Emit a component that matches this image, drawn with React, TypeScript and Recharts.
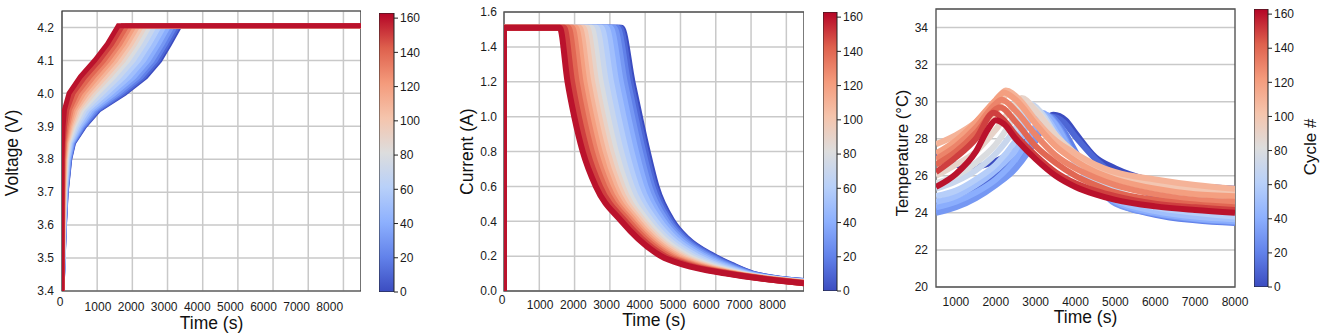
import React from "react";
import {
  LineChart,
  Line,
  BarChart,
  Bar,
  XAxis,
  YAxis,
  CartesianGrid,
  ReferenceArea
} from "recharts";

// cycle numbers drawn (one curve each), and the colour bar range
const cycles = [0, 10, 20, 30, 40, 50, 60, 70, 80, 90, 100, 110, 120, 130, 140, 150, 160];
const cycleMax = 163;
const cycleTicks = [0, 20, 40, 60, 80, 100, 120, 140, 160];

const timeTicks = [0, 1000, 2000, 3000, 4000, 5000, 6000, 7000, 8000];
const tempTimeTicks = [1000, 2000, 3000, 4000, 5000, 6000, 7000, 8000];
const voltageTicks = [3.4, 3.5, 3.6, 3.7, 3.8, 3.9, 4.0, 4.1, 4.2];
const currentTicks = [0, 0.2, 0.4, 0.6, 0.8, 1.0, 1.2, 1.4, 1.6];
const tempTicks = [20, 22, 24, 26, 28, 30, 32, 34];

const recordEnd = 8500;

// voltage: time (s) at which each cycle reaches each voltage level
const voltageLevels = [3.4, 3.6, 3.7, 3.8, 3.85, 3.9, 3.95, 4.0, 4.05, 4.1, 4.15, 4.205];
const voltageTimes = [
  [0, 70, 120, 220, 330, 640, 1050, 1780, 2380, 2780, 3060, 3350],
  [0, 68, 116, 213, 320, 622, 1021, 1733, 2324, 2725, 3007, 3298],
  [0, 65, 112, 205, 308, 597, 981, 1669, 2250, 2651, 2936, 3228],
  [0, 62, 106, 194, 292, 567, 932, 1590, 2157, 2558, 2848, 3140],
  [0, 57, 98, 180, 272, 530, 874, 1496, 2045, 2447, 2741, 3035],
  [0, 52, 90, 165, 250, 488, 805, 1385, 1915, 2318, 2618, 2913],
  [0, 47, 80, 147, 224, 439, 727, 1259, 1766, 2170, 2476, 2773],
  [0, 41, 71, 130, 199, 390, 648, 1132, 1617, 2022, 2334, 2633],
  [0, 36, 61, 112, 173, 341, 570, 1006, 1469, 1874, 2193, 2493],
  [0, 31, 53, 97, 151, 298, 501, 895, 1338, 1744, 2069, 2370],
  [0, 27, 46, 84, 132, 262, 442, 800, 1227, 1633, 1963, 2265],
  [0, 22, 38, 70, 112, 225, 384, 706, 1115, 1522, 1856, 2160],
  [0, 18, 31, 57, 93, 189, 325, 611, 1004, 1411, 1750, 2055],
  [0, 14, 24, 44, 74, 152, 266, 516, 892, 1300, 1644, 1950],
  [0, 10, 17, 31, 55, 115, 207, 421, 780, 1189, 1538, 1845],
  [0, 5, 8, 15, 32, 73, 139, 311, 650, 1060, 1414, 1723],
  [0, 0, 0, 0, 10, 30, 70, 200, 520, 930, 1290, 1600]
];

// current: time (s) at which each cycle falls to each current level
const currentLevels = [1.51, 1.2, 1.0, 0.8, 0.6, 0.4, 0.3, 0.2, 0.15, 0.1];
const currentTimes = [
  [3330, 3640, 3850, 4070, 4320, 4780, 5200, 5950, 6450, 7050],
  [3280, 3585, 3794, 4015, 4268, 4735, 5160, 5905, 6410, 7030],
  [3210, 3510, 3720, 3941, 4200, 4680, 5100, 5845, 6355, 7000],
  [3120, 3419, 3627, 3849, 4114, 4606, 5032, 5770, 6288, 6960],
  [3015, 3309, 3515, 3739, 4010, 4519, 4948, 5680, 6207, 6915],
  [2893, 3180, 3385, 3610, 3890, 4418, 4850, 5575, 6113, 6863],
  [2753, 3033, 3236, 3463, 3752, 4302, 4738, 5455, 6005, 6803],
  [2613, 2886, 3087, 3316, 3615, 4186, 4626, 5335, 5897, 6743],
  [2473, 2738, 2939, 3168, 3477, 4070, 4514, 5215, 5789, 6683],
  [2350, 2610, 2808, 3040, 3357, 3968, 4416, 5110, 5694, 6630],
  [2245, 2499, 2697, 2929, 3254, 3881, 4332, 5020, 5613, 6585],
  [2140, 2389, 2585, 2819, 3150, 3794, 4248, 4930, 5532, 6540],
  [2035, 2278, 2474, 2708, 3047, 3707, 4164, 4840, 5451, 6495],
  [1930, 2168, 2362, 2598, 2944, 3620, 4080, 4750, 5370, 6450],
  [1825, 2058, 2250, 2488, 2841, 3533, 3996, 4660, 5289, 6405],
  [1703, 1929, 2120, 2359, 2720, 3432, 3898, 4555, 5195, 6353],
  [1580, 1800, 1990, 2230, 2600, 3330, 3800, 4450, 5100, 6300]
];
const currentTail = [0.058, 0.057, 0.056, 0.055, 0.054, 0.053, 0.052, 0.051, 0.05, 0.05, 0.049, 0.048, 0.047, 0.047, 0.046, 0.045, 0.045];

// temperature: [time (s), temperature (°C)] per cycle
const temperatureCurves: [number, number][][] = [
  [[500, 27.3], [1000, 26.6], [1500, 26.5], [2000, 26.8], [2500, 27.4], [3000, 28.3], [3450, 29.3], [3750, 29.0], [4000, 28.3], [4500, 27.0], [5000, 26.4], [5800, 25.8], [7000, 25.45], [8000, 25.3]],
  [[500, 24.6], [1000, 24.9], [1500, 25.4], [2000, 26.0], [2500, 26.9], [3000, 28.1], [3400, 29.2], [3700, 28.9], [4000, 28.1], [4500, 26.9], [5000, 26.0], [6000, 24.9], [7000, 24.3], [8000, 24.0]],
  [[500, 24.2], [1000, 24.5], [1500, 25.0], [2000, 25.6], [2500, 26.5], [3000, 27.9], [3350, 29.2], [3650, 28.6], [4000, 27.3], [4500, 25.6], [5000, 24.6], [6000, 23.9], [7000, 23.6], [8000, 23.45]],
  [[500, 24.0], [1000, 24.3], [1500, 24.8], [2000, 25.5], [2500, 26.4], [3000, 28.0], [3250, 29.3], [3550, 28.7], [4000, 27.0], [4500, 25.5], [5000, 24.5], [6000, 23.95], [7000, 23.65], [8000, 23.5]],
  [[500, 24.3], [1000, 24.6], [1500, 25.1], [2000, 25.8], [2500, 26.9], [3000, 28.7], [3150, 29.4], [3450, 28.9], [4000, 26.9], [4500, 25.5], [5000, 24.6], [6000, 24.0], [7000, 23.7], [8000, 23.55]],
  [[500, 24.6], [1000, 24.9], [1500, 25.5], [2000, 26.3], [2500, 27.4], [3000, 29.4], [3200, 29.3], [3500, 28.4], [4000, 26.7], [4500, 25.4], [5000, 24.7], [6000, 24.1], [7000, 23.8], [8000, 23.65]],
  [[500, 24.9], [1000, 25.2], [1500, 25.8], [2000, 26.6], [2500, 27.9], [2950, 29.6], [3200, 29.2], [3500, 28.2], [4000, 26.7], [4500, 25.5], [5000, 24.9], [6000, 24.3], [7000, 24.0], [8000, 23.8]],
  [[500, 25.3], [1000, 25.7], [1500, 26.3], [2000, 27.2], [2500, 28.6], [2850, 29.9], [3100, 29.5], [3500, 28.2], [4000, 26.8], [4500, 25.8], [5000, 25.2], [6000, 24.6], [7000, 24.3], [8000, 24.1]],
  [[500, 25.6], [1000, 26.0], [1500, 26.7], [2000, 27.7], [2500, 29.3], [2700, 30.0], [3000, 29.6], [3500, 28.1], [4000, 27.0], [4500, 26.1], [5000, 25.6], [6000, 25.1], [7000, 24.8], [8000, 24.6]],
  [[500, 26.0], [1000, 26.6], [1500, 27.3], [2000, 28.5], [2500, 29.9], [2650, 30.2], [3000, 29.5], [3500, 28.2], [4000, 27.2], [4500, 26.4], [5000, 25.9], [6000, 25.4], [7000, 25.1], [8000, 24.9]],
  [[500, 26.8], [1000, 27.3], [1500, 28.1], [2000, 29.4], [2300, 30.4], [2600, 30.0], [3000, 29.0], [3500, 27.8], [4000, 27.0], [4500, 26.4], [5000, 26.0], [6000, 25.6], [7000, 25.3], [8000, 25.1]],
  [[500, 27.7], [1000, 28.2], [1500, 28.9], [2000, 30.0], [2250, 30.6], [2600, 30.1], [3000, 29.0], [3500, 27.9], [4000, 27.2], [4500, 26.6], [5000, 26.2], [6000, 25.8], [7000, 25.5], [8000, 25.3]],
  [[500, 27.2], [1000, 27.9], [1500, 28.9], [2000, 30.1], [2200, 30.5], [2500, 30.1], [3000, 28.8], [3500, 27.6], [4000, 26.8], [4500, 26.2], [5000, 25.8], [6000, 25.3], [7000, 25.0], [8000, 24.9]],
  [[500, 26.9], [1000, 27.6], [1500, 28.6], [2000, 29.9], [2150, 30.1], [2500, 29.5], [3000, 28.2], [3500, 27.1], [4000, 26.4], [4500, 25.9], [5000, 25.5], [6000, 25.0], [7000, 24.7], [8000, 24.6]],
  [[500, 26.6], [1000, 27.3], [1500, 28.3], [2000, 29.6], [2100, 29.7], [2500, 28.9], [3000, 27.6], [3500, 26.7], [4000, 26.0], [4500, 25.5], [5000, 25.1], [6000, 24.7], [7000, 24.45], [8000, 24.3]],
  [[500, 26.2], [1000, 27.0], [1500, 28.0], [1950, 29.4], [2200, 29.0], [2500, 28.2], [3000, 27.1], [3500, 26.2], [4000, 25.6], [4500, 25.2], [5000, 24.9], [6000, 24.5], [7000, 24.3], [8000, 24.15]],
  [[500, 25.4], [1000, 26.1], [1500, 27.3], [1800, 28.5], [2000, 29.0], [2200, 28.8], [2500, 28.0], [3000, 26.9], [3500, 26.0], [4000, 25.4], [4500, 25.0], [5000, 24.7], [6000, 24.35], [7000, 24.15], [8000, 24.0]]
];

const FONT = '"Liberation Sans", Arial, Helvetica, sans-serif';
const tickStyle = { fontSize: 12, fill: "#1a1a1a", fontFamily: FONT };
const titleStyle = { fontSize: 17.5, fill: "#111", fontFamily: FONT };
const gridColor = "#c9c9c9";
const frameColor = "#333";

// matplotlib "coolwarm"
const coolwarm = ["#3b4cc0", "#6282ea", "#8db0fe", "#b8d0f9", "#dddddd", "#f5c4ac", "#f49a7b", "#de604d", "#b40426"];

const hexRgb = (h: string) => [1, 3, 5].map((i) => parseInt(h.slice(i, i + 2), 16));
const cycleColor = (c: number) => {
  const p = Math.min(1, Math.max(0, c / cycleMax)) * (coolwarm.length - 1);
  const i = Math.min(coolwarm.length - 2, Math.floor(p));
  const f = p - i;
  const a = hexRgb(coolwarm[i]);
  const b = hexRgb(coolwarm[i + 1]);
  const m = a.map((v, k) => Math.round(v + (b[k] - v) * f));
  return `rgb(${m[0]},${m[1]},${m[2]})`;
};

const voltageRows = voltageTimes.map((ts) => [
  ...ts.map((t, i) => ({ t, v: voltageLevels[i] })),
  { t: recordEnd, v: voltageLevels[voltageLevels.length - 1] }
]);

const currentRows = currentTimes.map((ts, k) => [
  { t: 0, v: 0 },
  { t: 0, v: currentLevels[0] },
  ...ts.map((t, i) => ({ t, v: currentLevels[i] })),
  { t: recordEnd, v: currentTail[k] }
]);

const temperatureRows = temperatureCurves.map((pts) => pts.map(([t, v]) => ({ t, v })));

// tick labels of the two left panels sit slightly off their grid lines in the original
const DriftTick = (props: any) => {
  const { x, y, payload } = props;
  const k = payload.value / 1000;
  const dx = k === 0 ? -2 : 0.8 - (k - 1) * 2.07;
  const dy = k === 0 ? -4.5 : 0;
  return (
    <text x={x + dx} y={y + dy} dy="0.71em" textAnchor="middle" style={tickStyle}>
      {payload.value}
    </text>
  );
};

const vTitle = (x: number, y: number, text: string, size = 17.5) => ({
  content: () => (
    <text
      x={x}
      y={y}
      transform={`rotate(-90 ${x} ${y})`}
      textAnchor="middle"
      dominantBaseline="central"
      style={{ ...titleStyle, fontSize: size }}
    >
      {text}
    </text>
  )
});

const hTitle = (x: number, y: number, text: string) => ({
  content: () => (
    <text x={x} y={y} textAnchor="middle" dominantBaseline="central" style={titleStyle}>
      {text}
    </text>
  )
});

interface ColorBarProps {
  id: string;
  left: number;
  top: number;
  bottom: number;
  barWidth: number;
  width: number;
  title?: React.ReactNode;
}

const ColorBar: React.FC<ColorBarProps> = ({ id, left, top, bottom, barWidth, width, title }) => (
  <div style={{ position: "absolute", left, top: 0 }}>
    <BarChart
      width={width}
      height={333}
      data={[{ name: "cycle", value: cycleMax }]}
      margin={{ top, right: 0, bottom: 333 - bottom, left: 0 }}
      barCategoryGap={0}
    >
      <defs>
        <linearGradient id={id} x1="0" y1="1" x2="0" y2="0">
          {coolwarm.map((c, i) => (
            <stop key={c} offset={`${(i / (coolwarm.length - 1)) * 100}%`} stopColor={c} />
          ))}
        </linearGradient>
      </defs>
      <XAxis dataKey="name" hide />
      <YAxis
        orientation="right"
        type="number"
        width={width - barWidth}
        domain={[0, cycleMax]}
        ticks={cycleTicks}
        interval={0}
        allowDataOverflow
        axisLine={false}
        tickLine={{ stroke: "#222" }}
        tickSize={4}
        tickMargin={2}
        tick={tickStyle}
        label={title as any}
      />
      <Bar dataKey="value" fill={`url(#${id})`} stroke="#222" strokeWidth={1} isAnimationActive={false} />
    </BarChart>
  </div>
);

const App: React.FC = () => {
  return (
    <div style={{ position: "absolute", left: 0, top: 0, width: 1328, height: 333, background: "#fff", fontFamily: FONT }}>
      {/* Voltage */}
      <div style={{ position: "absolute", left: 0, top: 0 }}>
        <LineChart width={361} height={333} margin={{ top: 11, right: 0, bottom: 0, left: 0 }}>
          <CartesianGrid stroke={gridColor} strokeWidth={1.5} />
          <XAxis
            dataKey="t"
            type="number"
            domain={[0, recordEnd]}
            ticks={timeTicks}
            interval={0}
            allowDataOverflow
            height={42}
            axisLine={false}
            tickLine={false}
            tickSize={0}
            tickMargin={11}
            tick={<DriftTick />}
            label={hTitle(211.5, 323, "Time (s)") as any}
          />
          <YAxis
            type="number"
            domain={[3.4, 4.25]}
            ticks={voltageTicks}
            interval={0}
            allowDataOverflow
            width={62}
            axisLine={false}
            tickLine={false}
            tickSize={0}
            tickMargin={8}
            tick={tickStyle}
            tickFormatter={(v: number) => v.toFixed(1)}
            label={vTitle(12, 153, "Voltage (V)") as any}
          />
          {voltageRows.map((rows, k) => (
            <Line
              key={cycles[k]}
              data={rows}
              dataKey="v"
              type="linear"
              stroke={cycleColor(cycles[k])}
              strokeWidth={5}
              dot={false}
              activeDot={false}
              isAnimationActive={false}
            />
          ))}
          <ReferenceArea x1={0} x2={recordEnd} y1={3.4} y2={4.25} fill="none" stroke={frameColor} strokeWidth={1.2} />
        </LineChart>
      </div>
      <ColorBar id="cbVoltage" left={379} top={13} bottom={292} barWidth={15} width={60} />

      {/* Current */}
      <div style={{ position: "absolute", left: 442, top: 0 }}>
        <LineChart width={362} height={333} margin={{ top: 12, right: 0, bottom: 0, left: 0 }}>
          <CartesianGrid stroke={gridColor} strokeWidth={1.5} />
          <XAxis
            dataKey="t"
            type="number"
            domain={[0, recordEnd]}
            ticks={timeTicks}
            interval={0}
            allowDataOverflow
            height={42}
            axisLine={false}
            tickLine={false}
            tickSize={0}
            tickMargin={9}
            tick={<DriftTick />}
            label={hTitle(212, 320, "Time (s)") as any}
          />
          <YAxis
            type="number"
            domain={[0, 1.6]}
            ticks={currentTicks}
            interval={0}
            allowDataOverflow
            width={62}
            axisLine={false}
            tickLine={false}
            tickSize={0}
            tickMargin={7}
            tick={tickStyle}
            tickFormatter={(v: number) => v.toFixed(1)}
            label={vTitle(24.7, 151.7, "Current (A)") as any}
          />
          {currentRows.map((rows, k) => (
            <Line
              key={cycles[k]}
              data={rows}
              dataKey="v"
              type="monotone"
              stroke={cycleColor(cycles[k])}
              strokeWidth={6}
              dot={false}
              activeDot={false}
              isAnimationActive={false}
            />
          ))}
          <ReferenceArea x1={0} x2={recordEnd} y1={0} y2={1.6} fill="none" stroke="#555" strokeWidth={1.4} />
        </LineChart>
      </div>
      <ColorBar id="cbCurrent" left={823} top={12} bottom={291} barWidth={14} width={60} />

      {/* Temperature */}
      <div style={{ position: "absolute", left: 878, top: 0 }}>
        <LineChart width={382} height={333} margin={{ top: 9, right: 25, bottom: 0, left: 0 }}>
          <CartesianGrid stroke={gridColor} strokeWidth={1.5} vertical={false} />
          <XAxis
            dataKey="t"
            type="number"
            domain={[500, 8000]}
            ticks={tempTimeTicks}
            interval={0}
            allowDataOverflow
            height={46}
            axisLine={false}
            tickLine={false}
            tickSize={0}
            tickMargin={10}
            tick={tickStyle}
            label={hTitle(207.5, 316.7, "Time (s)") as any}
          />
          <YAxis
            type="number"
            domain={[20, 35]}
            ticks={tempTicks}
            interval={0}
            allowDataOverflow
            width={58}
            axisLine={false}
            tickLine={false}
            tickSize={0}
            tickMargin={8}
            tick={tickStyle}
            label={vTitle(23.7, 153, "Temperature (°C)", 16.5) as any}
          />
          {temperatureRows.map((rows, k) => (
            <Line
              key={cycles[k]}
              data={rows}
              dataKey="v"
              type="monotone"
              stroke={cycleColor(cycles[k])}
              strokeWidth={6}
              dot={false}
              activeDot={false}
              isAnimationActive={false}
            />
          ))}
          <ReferenceArea x1={500} x2={8000} y1={20} y2={35} fill="none" stroke="#555" strokeWidth={1.4} />
        </LineChart>
      </div>
      <ColorBar
        id="cbTemperature"
        left={1254}
        top={9}
        bottom={287}
        barWidth={14}
        width={74}
        title={vTitle(56, 147, "Cycle #", 17)}
      />
    </div>
  );
};

export default App;
